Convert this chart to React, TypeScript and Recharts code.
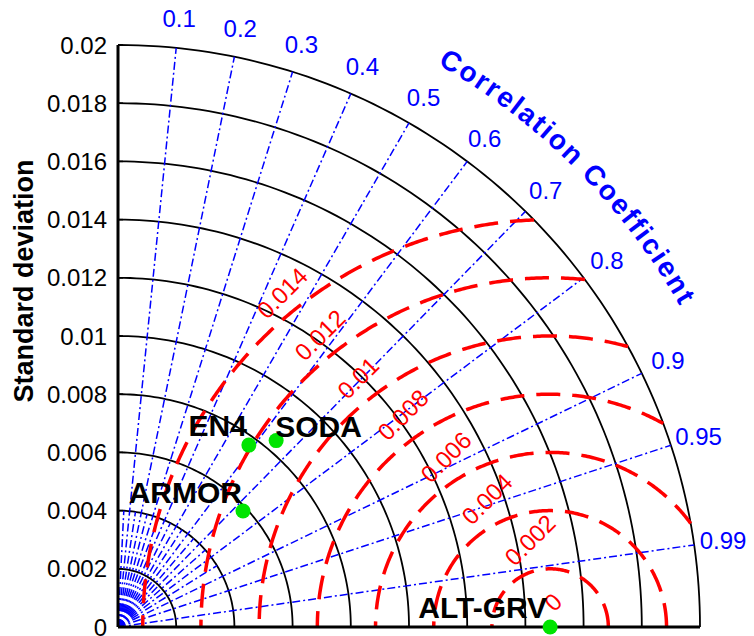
import { ScatterChart, Scatter, XAxis, YAxis, Label } from "recharts";

// standard deviation axis + arcs
const STD_TICKS = [0, 0.002, 0.004, 0.006, 0.008, 0.01, 0.012, 0.014, 0.016, 0.018, 0.02];
const STD_ARCS = [0.002, 0.004, 0.006, 0.008, 0.01, 0.012, 0.014, 0.016, 0.018, 0.02];
const STD_MAX = 0.02;

// correlation rays
const CORR_TICKS = [0.1, 0.2, 0.3, 0.4, 0.5, 0.6, 0.7, 0.8, 0.9, 0.95, 0.99];
const CORR_MINOR = [0.05, 0.15, 0.25, 0.35, 0.45, 0.55, 0.65, 0.75, 0.85];
const CORR_MINOR_LEN = 0.004;
const CORR_LABEL_R = 0.021;
const CORR_TITLE_R = 0.02258;

// centred RMS difference contours around the reference
const REF_STD = 0.01485;
const RMS_LEVELS = [0.002, 0.004, 0.006, 0.008, 0.01, 0.012, 0.014];
const RMS_LABELS = ["0", "0.002", "0.004", "0.006", "0.008", "0.01", "0.012", "0.014"];
const RMS_LABEL_X = [0.01495, 0.01416, 0.01268, 0.01127, 0.00979, 0.00825, 0.00694, 0.00564];
const RMS_LABEL_Y = [0.00086, 0.00299, 0.0044, 0.00584, 0.00729, 0.00856, 0.01003, 0.01148];

// products
const MODELS = ["ALT-GRV", "EN4", "SODA", "ARMOR"];
const MODEL_STD = [0.01485, 0.0077, 0.0084, 0.00586];
const MODEL_CORR = [1, 0.584, 0.647, 0.733];

const LABEL_POS: Record<string, { anchor: "start" | "end"; dx: number; dy: number }> = {
  "ALT-GRV": { anchor: "end", dx: -3, dy: -9 },
  EN4: { anchor: "end", dx: -2, dy: -9 },
  SODA: { anchor: "start", dx: -1, dy: -4 },
  ARMOR: { anchor: "end", dx: -1, dy: -8 },
};

const W = 754;
const H = 636;
const PX_LEFT = 118;
const PX_BOTTOM = 627;
const K = 29100; // px per unit
const AXIS_MAX = 0.0215;
const SIDE = AXIS_MAX * K;

const FONT = "'Liberation Sans', Arial, Helvetica, sans-serif";
const BLUE = "#0000ff";
const RED = "#ff0000";

const stdArc = (r: number) => {
  const pts = [];
  for (let i = 0; i <= 90; i++) {
    const a = (i / 90) * (Math.PI / 2);
    pts.push({ x: r * Math.cos(a), y: r * Math.sin(a) });
  }
  return pts;
};

const rmsArc = (rr: number) => {
  let c = (STD_MAX * STD_MAX - REF_STD * REF_STD - rr * rr) / (2 * REF_STD * rr);
  c = Math.max(-1, Math.min(1, c));
  const t0 = Math.acos(c);
  const pts = [];
  for (let i = 0; i <= 240; i++) {
    const t = t0 + (i / 240) * (Math.PI - t0);
    pts.push({ x: REF_STD + rr * Math.cos(t), y: Math.max(0, rr * Math.sin(t)) });
  }
  return pts;
};

const ray = (c: number, len: number) => {
  const s = Math.sqrt(1 - c * c);
  return [
    { x: 0, y: 0 },
    { x: len * c, y: len * s },
  ];
};

const corrLabels = CORR_TICKS.map((c) => ({
  x: CORR_LABEL_R * c,
  y: CORR_LABEL_R * Math.sqrt(1 - c * c),
  label: String(c),
}));

const rmsLabels = RMS_LABELS.map((label, i) => ({ x: RMS_LABEL_X[i], y: RMS_LABEL_Y[i], label }));

const models = MODELS.map((name, i) => ({
  x: MODEL_STD[i] * MODEL_CORR[i],
  y: MODEL_STD[i] * Math.sqrt(Math.max(0, 1 - MODEL_CORR[i] * MODEL_CORR[i])),
  name,
}));

const titlePoint = [{ x: CORR_TITLE_R * Math.SQRT1_2, y: CORR_TITLE_R * Math.SQRT1_2 }];

const Blank = () => <g />;

const StdTick = (p: any) => (
  <text
    x={p.x}
    y={p.y}
    textAnchor="end"
    dominantBaseline="central"
    fill="#000"
    fontSize={24}
    fontFamily={FONT}
  >
    {String(p.payload.value)}
  </text>
);

const CorrLabel = (p: any) => (
  <text
    x={p.cx}
    y={p.cy}
    textAnchor="middle"
    dominantBaseline="central"
    fill={BLUE}
    fontSize={24}
    fontFamily={FONT}
  >
    {p.payload.label}
  </text>
);

const RmsLabel = (p: any) => (
  <text
    x={p.cx}
    y={p.cy}
    textAnchor="middle"
    dominantBaseline="central"
    fill={RED}
    fontSize={24}
    fontFamily={FONT}
    transform={`rotate(-45 ${p.cx} ${p.cy})`}
  >
    {p.payload.label}
  </text>
);

const ModelPoint = (p: any) => {
  const pos = LABEL_POS[p.payload.name];
  return (
    <g>
      <circle cx={p.cx} cy={p.cy} r={7.5} fill="#00e400" />
      <text
        x={p.cx + pos.dx}
        y={p.cy + pos.dy}
        textAnchor={pos.anchor}
        fill="#000"
        fontSize={30}
        fontWeight="bold"
        fontFamily={FONT}
      >
        {p.payload.name}
      </text>
    </g>
  );
};

const TitleArc = (p: any) => {
  const R = CORR_TITLE_R * K;
  const ox = p.cx - R * Math.SQRT1_2;
  const oy = p.cy + R * Math.SQRT1_2;
  const rb = R - 10;
  const a1 = (80 * Math.PI) / 180;
  const a2 = (10 * Math.PI) / 180;
  const d = `M ${ox + rb * Math.cos(a1)} ${oy - rb * Math.sin(a1)} A ${rb} ${rb} 0 0 1 ${
    ox + rb * Math.cos(a2)
  } ${oy - rb * Math.sin(a2)}`;
  return (
    <g>
      <defs>
        <path id="corrTitleArc" d={d} fill="none" />
      </defs>
      <text fill={BLUE} fontSize={28} fontWeight="bold" fontFamily={FONT} letterSpacing={2}>
        <textPath href="#corrTitleArc" startOffset="50%" textAnchor="middle">
          Correlation Coefficient
        </textPath>
      </text>
    </g>
  );
};

export default function App() {
  return (
    <div style={{ width: W, height: H, background: "#fff" }}>
      <style>{"body{margin:0}"}</style>
      <ScatterChart
        width={W}
        height={H}
        margin={{ top: PX_BOTTOM - SIDE, right: W - PX_LEFT - SIDE, bottom: H - PX_BOTTOM, left: 0 }}
        style={{ fontFamily: FONT }}
      >
        <XAxis type="number" dataKey="x" domain={[0, AXIS_MAX]} hide />
        <YAxis
          type="number"
          dataKey="y"
          domain={[0, AXIS_MAX]}
          ticks={STD_TICKS}
          width={PX_LEFT}
          axisLine={false}
          tickSize={-5}
          tickMargin={16}
          tickLine={{ stroke: "#000", strokeWidth: 1.5 }}
          tick={StdTick}
          interval={0}
        >
          <Label
            content={() => (
              <text
                x={24}
                y={281}
                transform="rotate(-90 24 281)"
                textAnchor="middle"
                dominantBaseline="central"
                fill="#000"
                fontSize={27}
                fontWeight="bold"
                fontFamily={FONT}
              >
                Standard deviation
              </text>
            )}
          />
        </YAxis>

        {STD_ARCS.map((r) => (
          <Scatter
            key={`std-${r}`}
            data={stdArc(r)}
            shape={Blank}
            line={{ stroke: "#000", strokeWidth: 1.8 }}
            isAnimationActive={false}
          />
        ))}

        {CORR_MINOR.map((c) => (
          <Scatter
            key={`cm-${c}`}
            data={ray(c, CORR_MINOR_LEN)}
            shape={Blank}
            line={{ stroke: BLUE, strokeWidth: 1.5, strokeDasharray: "8 3 2 3" }}
            isAnimationActive={false}
          />
        ))}
        {CORR_TICKS.map((c) => (
          <Scatter
            key={`c-${c}`}
            data={ray(c, STD_MAX)}
            shape={Blank}
            line={{ stroke: BLUE, strokeWidth: 1.5, strokeDasharray: "8 3 2 3" }}
            isAnimationActive={false}
          />
        ))}

        {RMS_LEVELS.map((rr) => (
          <Scatter
            key={`rms-${rr}`}
            data={rmsArc(rr)}
            shape={Blank}
            line={{ stroke: RED, strokeWidth: 3.5, strokeDasharray: "24 12" }}
            isAnimationActive={false}
          />
        ))}

        {/* axes */}
        <Scatter
          data={[{ x: 0, y: 0 }, { x: 0, y: STD_MAX }]}
          shape={Blank}
          line={{ stroke: "#000", strokeWidth: 3 }}
          isAnimationActive={false}
        />
        <Scatter
          data={[{ x: 0, y: 0 }, { x: STD_MAX, y: 0 }]}
          shape={Blank}
          line={{ stroke: "#000", strokeWidth: 3 }}
          isAnimationActive={false}
        />

        <Scatter data={corrLabels} shape={CorrLabel} isAnimationActive={false} />
        <Scatter data={rmsLabels} shape={RmsLabel} isAnimationActive={false} />
        <Scatter data={titlePoint} shape={TitleArc} isAnimationActive={false} />
        <Scatter data={models} shape={ModelPoint} isAnimationActive={false} />
      </ScatterChart>
    </div>
  );
}
